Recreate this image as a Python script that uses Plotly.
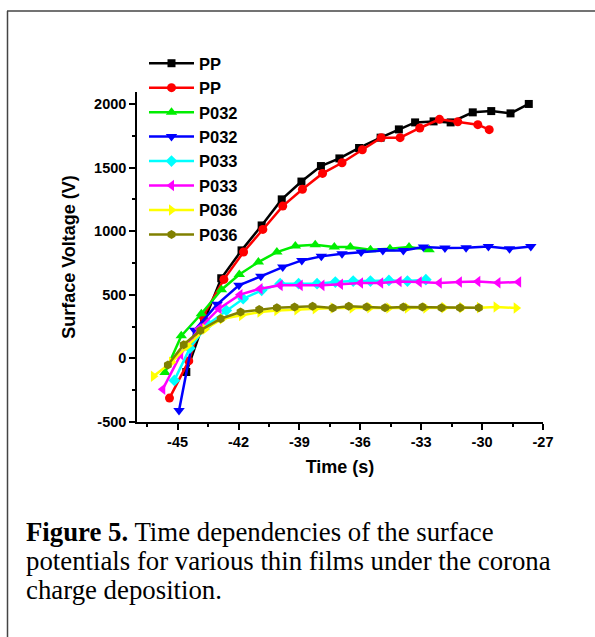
import plotly.graph_objects as go

# ---------------- data ----------------
pp1_t = [-44.57, -43.7, -42.85, -41.85, -40.86, -39.87, -38.9, -37.94, -37.03, -36.06, -35.0,
         -34.1, -33.3, -32.39, -31.55, -30.46, -29.55, -28.6, -27.7]
pp1_v = [-107, 290, 630, 849, 1045, 1250, 1390, 1512, 1572, 1654, 1735,
         1800, 1855, 1863, 1855, 1934, 1944, 1926, 2000]

pp2_t = [-45.4, -44.45, -43.75, -42.72, -41.75, -40.8, -39.82, -38.85, -37.86, -36.9, -35.9,
         -34.97, -34.04, -33.07, -32.1, -31.2, -30.21, -29.65]
pp2_v = [-312, -20, 330, 621, 836, 1014, 1197, 1329, 1454, 1538, 1640,
         1735, 1735, 1811, 1879, 1860, 1837, 1798]

p032a_t = [-45.62, -44.82, -43.83, -42.84, -41.96, -41.02, -40.11, -39.2, -38.22, -37.28,
           -36.49, -35.5, -34.54, -33.6, -32.61]
p032a_v = [-110, 177, 351, 540, 660, 757, 836, 883, 894, 875, 875, 854, 862, 875, 854]

p032b_t = [-44.93, -44.16, -43.05, -41.98, -40.9, -39.82, -38.88, -37.92, -36.9, -35.96,
           -34.89, -33.88, -32.89, -31.83, -30.79, -29.69, -28.65, -27.6]
p032b_v = [-410, 222, 425, 574, 645, 718, 770, 802, 823, 836, 849, 849, 875, 867, 870, 880, 862, 880]

p033a_t = [-45.16, -44.4, -43.5, -42.6, -41.77, -40.86, -39.95, -39.04, -38.13, -37.23,
           -36.35, -35.5, -34.59, -33.68, -32.77]
p033a_v = [-173, 80, 270, 377, 469, 535, 587, 587, 587, 600, 608, 608, 613, 608, 619]

p033b_t = [-45.73, -44.85, -43.95, -42.96, -41.93, -40.94, -39.95, -38.96, -37.89, -36.98,
           -35.99, -35.0, -34.09, -33.1, -32.11, -31.12, -30.21, -29.22, -28.2]
p033b_v = [-242, 30, 233, 391, 501, 548, 574, 574, 574, 582, 592, 592, 605, 600, 592, 600, 605, 595, 600]

p036a_t = [-46.19, -45.3, -44.5, -43.65, -42.79, -41.85, -40.94, -40.11, -39.12, -38.22, -37.34,
           -36.4, -35.53, -34.59, -33.68, -32.77, -31.87, -30.99, -30.13, -29.31, -28.32]
p036a_v = [-140, -30, 100, 230, 312, 338, 364, 377, 383, 391, 396,
           396, 399, 396, 396, 396, 399, 399, 399, 404, 396]

p036b_t = [-45.48, -44.7, -43.88, -42.88, -41.9, -40.98, -40.11, -39.24, -38.35, -37.36,
           -36.57, -35.69, -34.78, -33.88, -32.94, -32.0, -31.09, -30.16]
p036b_v = [-52, 108, 220, 312, 364, 385, 399, 404, 409, 396, 409, 404, 399, 404, 404, 399, 399, 399]

series_names = ["PP", "PP", "P032", "P032", "P033", "P033", "P036", "P036"]
x_ticks = [-45, -42, -39, -36, -33, -30, -27]
y_ticks = [-500, 0, 500, 1000, 1500, 2000]

caption_lines = [
    "<b>Figure 5.</b> Time dependencies of the surface",
    "potentials for various thin films under the corona",
    "charge deposition.",
]

# ---------------- style ----------------
colors = ["#000000", "#FF0000", "#00EE00", "#0000FF", "#00FFFF", "#FF00FF", "#FFFF00", "#808000"]
symbols = ["square", "circle", "triangle-up", "triangle-down", "diamond",
           "triangle-left", "triangle-right", "hexagon"]
sizes = [8, 9, 10, 10, 9, 10, 10, 9]

W, H = 595, 637
L, R, T, B = 137, 543, 92, 422


def pxx(px):
    return (px - L) / (R - L)


def pxy(py):
    return (B - py) / (B - T)


fig = go.Figure()
data = [(pp1_t, pp1_v), (pp2_t, pp2_v), (p032a_t, p032a_v), (p032b_t, p032b_v),
        (p033a_t, p033a_v), (p033b_t, p033b_v), (p036a_t, p036a_v), (p036b_t, p036b_v)]
for i, (t, v) in enumerate(data):
    fig.add_trace(go.Scatter(
        x=t, y=v, mode="lines+markers", name=series_names[i],
        line=dict(color=colors[i], width=2.5),
        marker=dict(symbol=symbols[i], size=sizes[i], color=colors[i], line=dict(width=0)),
    ))

tickfont = dict(family="Liberation Sans, Arial", size=14.5, color="black", weight="bold")
titlefont = dict(family="Liberation Sans, Arial", size=18, color="black", weight="bold")

fig.update_xaxes(
    range=[-47, -27], tickvals=x_ticks, ticktext=[str(v) for v in x_ticks],
    ticks="outside", ticklen=6, tickwidth=1.5, tickcolor="black",
    minor=dict(dtick=1.5, tick0=-45, ticks="outside", ticklen=3, tickwidth=1.5, tickcolor="black"),
    showline=True, linecolor="black", linewidth=1.5, mirror=False, showgrid=False, zeroline=False,
    tickfont=tickfont, title=dict(text="Time (s)", font=titlefont, standoff=11),
)
fig.update_yaxes(
    range=[-500, 2094], tickvals=y_ticks, ticktext=[str(v) for v in y_ticks],
    ticks="outside", ticklen=6, tickwidth=1.5, tickcolor="black",
    minor=dict(dtick=250, tick0=0, ticks="outside", ticklen=3, tickwidth=1.5, tickcolor="black"),
    showline=True, linecolor="black", linewidth=1.5, mirror=False, showgrid=False, zeroline=False,
    tickfont=tickfont, title=dict(text="Surface Voltage (V)", font=titlefont, standoff=14),
)

shapes = [
    dict(type="line", xref="paper", yref="paper", x0=pxx(7), x1=pxx(W), y0=pxy(11), y1=pxy(11),
         line=dict(color="#444444", width=1.5)),
    dict(type="line", xref="paper", yref="paper", x0=pxx(7.5), x1=pxx(7.5), y0=pxy(11), y1=pxy(H),
         line=dict(color="#444444", width=1.5)),
]

annotations = []
for k, line in enumerate(caption_lines):
    annotations.append(dict(
        text=line, xref="paper", yref="paper", x=pxx(24), y=pxy(532 + 29 * k),
        xanchor="left", yanchor="middle", showarrow=False, align="left",
        font=dict(family="Liberation Serif, Times New Roman", size=26.8, color="black"),
    ))

fig.update_layout(
    width=W, height=H,
    margin=dict(l=L, r=W - R, t=T, b=H - B, pad=0),
    paper_bgcolor="white", plot_bgcolor="white",
    showlegend=True,
    legend=dict(x=pxx(144), y=pxy(46), xanchor="left", yanchor="top",
                bgcolor="rgba(0,0,0,0)", borderwidth=0, tracegroupgap=0,
                itemwidth=45,
                font=dict(family="Liberation Sans, Arial", size=16.5, color="black", weight="bold")),
    shapes=shapes, annotations=annotations,
)

fig.write_html("out.html")
